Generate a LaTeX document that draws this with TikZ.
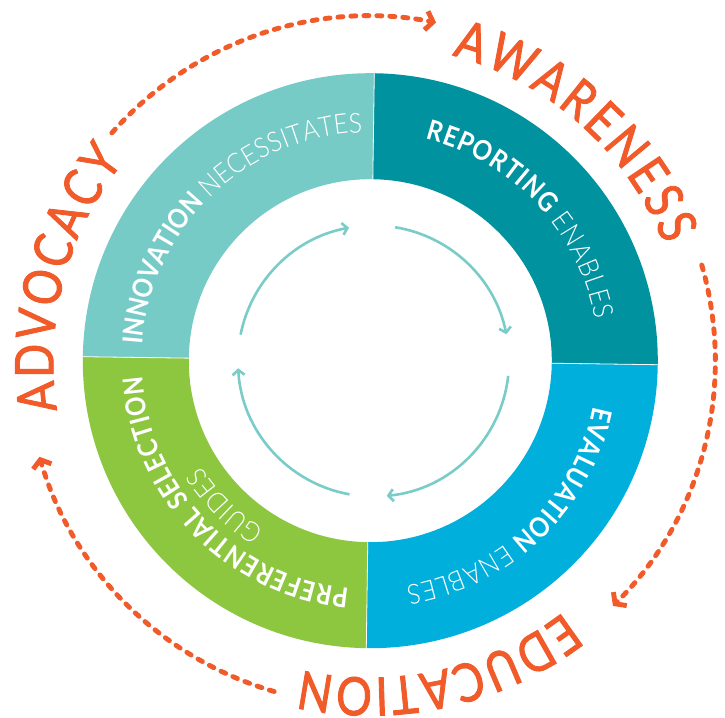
\documentclass[tikz,border=0pt]{standalone}
\usepackage{fontspec}
\usetikzlibrary{decorations.text,arrows.meta}
\newfontfamily\ringboldfont{Lato}[FakeStretch=0.88]
\newfontfamily\ringlightfont{Lato Light}[FakeStretch=0.9]
\newfontfamily\outerfont{Lato}[FakeStretch=0.84,FakeBold=1.6]
\definecolor{cInno}{HTML}{77CBC7}
\definecolor{cRep}{HTML}{00929F}
\definecolor{cEval}{HTML}{00AFDB}
\definecolor{cPref}{HTML}{8DC63F}
\definecolor{cOrange}{HTML}{F15A29}
\definecolor{cArrow}{HTML}{7ACCC8}
\newcommand\ringbold{\fontsize{27.5}{30}\selectfont\ringboldfont\bfseries\color{white}}
\newcommand\ringlight{\fontsize{27.5}{30}\selectfont\ringlightfont\color{white}}
\newcommand\outertext{\fontsize{53}{60}\selectfont\outerfont\color{cOrange}}
\tikzset{
  sepline/.style={draw=white, line width=0.8pt},
  ringtext/.style={decorate, decoration={text along path, text align={fit to path}, text={#1}}},
  innerarrow/.style={draw=cArrow, line width=2.6pt, -{Straight Barb[length=5pt,width=12pt]}},
  outerarrow/.style={draw=cOrange, line width=4.9pt, line cap=round, dash pattern=on 5pt off 8pt, -{Straight Barb[length=7pt,width=19pt]}}
}
\begin{document}
\begin{tikzpicture}[x=1pt,y=1pt]
\useasboundingbox (0,0) rectangle (725,717);
\fill[white] (0,0) rectangle (725,717);
\begin{scope}[shift={(370.3,356.3)}]
  % ring sectors
  \fill[cInno] (89.2:181.5) -- (89.2:287.5) arc[start angle=89.2, end angle=179.2, radius=287.5] -- (179.2:181.5) arc[start angle=179.2, end angle=89.2, radius=181.5] -- cycle;
  \fill[cRep] (-0.8:181.5) -- (-0.8:287.5) arc[start angle=-0.8, end angle=89.2, radius=287.5] -- (89.2:181.5) arc[start angle=89.2, end angle=-0.8, radius=181.5] -- cycle;
  \fill[cEval] (-90.8:181.5) -- (-90.8:287.5) arc[start angle=-90.8, end angle=-0.8, radius=287.5] -- (-0.8:181.5) arc[start angle=-0.8, end angle=-90.8, radius=181.5] -- cycle;
  \fill[cPref] (179.2:181.5) -- (179.2:287.5) arc[start angle=179.2, end angle=269.2, radius=287.5] -- (269.2:181.5) arc[start angle=269.2, end angle=179.2, radius=181.5] -- cycle;
  \draw[sepline] (89.2:181.5) -- (89.2:287.5);
  \draw[sepline] (-0.8:181.5) -- (-0.8:287.5);
  \draw[sepline] (-90.8:181.5) -- (-90.8:287.5);
  \draw[sepline] (179.2:181.5) -- (179.2:287.5);
  % ring texts
  \path[ringtext={|\ringbold|INNOVATION |\ringlight|NECESSITATES}] (176:228.5) arc[start angle=176, end angle=92, radius=228.5];
  \path[ringtext={|\ringbold|REPORTING |\ringlight|ENABLES}] (76:228.5) arc[start angle=76, end angle=10.3, radius=228.5];
  \path[ringtext={|\ringbold|EVALUATION |\ringlight|ENABLES}] (-11.5:227.5) arc[start angle=-11.5, end angle=-81, radius=227.5];
  \path[ringtext={|\ringbold|PREFERENTIAL SELECTION}] (-95.3:228.5) arc[start angle=-95.3, end angle=-176.2, radius=228.5];
  \path[ringtext={|\ringlight|GUIDES}] (-122:199) arc[start angle=-122, end angle=-148, radius=199];
  % outer texts
  \path[ringtext={|\outertext|AWARENESS}] (75:316) arc[start angle=75, end angle=21.5, radius=316];
  \path[ringtext={|\outertext|ADVOCACY}] (189:317) arc[start angle=189, end angle=141, radius=317];
  \path[ringtext={|\outertext|EDUCATION}] (-52.4:317) arc[start angle=-52.4, end angle=-102.5, radius=317];
  % outer dashed arrows
  \draw[outerarrow] (138.6:344.5) arc[start angle=138.6, end angle=79, radius=344.5];
  \draw[outerarrow] (16.1:345) arc[start angle=16.1, end angle=-45.3, radius=345];
  \draw[outerarrow] (-106.2:344.5) arc[start angle=-106.2, end angle=-163.8, radius=344.5];
\end{scope}
\begin{scope}[shift={(373.5,356)}]
  \draw[innerarrow] (168.8:135.5) arc[start angle=168.8, end angle=100.4, radius=135.5];
  \draw[innerarrow] (80.8:135.5) arc[start angle=80.8, end angle=11.4, radius=135.5];
  \draw[innerarrow] (-6.3:135.5) arc[start angle=-6.3, end angle=-84.4, radius=135.5];
  \draw[innerarrow] (-100.2:135.5) arc[start angle=-100.2, end angle=-176.9, radius=135.5];
\end{scope}
\end{tikzpicture}
\end{document}
